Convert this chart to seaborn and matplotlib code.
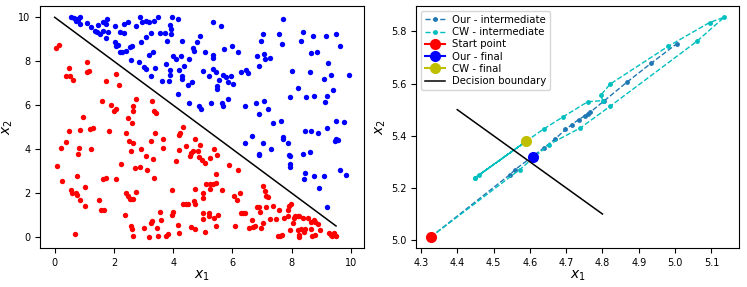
"""
Adversarial path comparison
---------------------------
Left: two-class toy data with a linear decision boundary.
Right: zoom on the intermediate steps of our attack vs. CW.
"""

import numpy as np
import matplotlib
matplotlib.use("Agg")
import matplotlib.pyplot as plt
import seaborn as sns

# =========================
# Data
# =========================
red_points = np.array([
    (0.03, 8.58), (0.15, 8.74), (0.08, 3.23), (0.22, 4.03), (0.26, 2.57), (0.37, 4.32),
    (0.37, 7.31), (0.51, 7.34), (0.62, 7.15), (0.48, 7.67), (0.48, 4.82), (0.56, 2.13),
    (0.60, 1.98), (0.67, 0.15), (0.71, 1.98), (0.75, 1.93), (0.75, 2.77), (0.79, 3.76),
    (0.82, 4.06), (0.84, 4.86), (0.87, 1.70), (0.96, 5.48), (1.01, 2.28), (1.04, 1.40),
    (1.09, 7.98), (1.09, 7.52), (1.16, 7.56), (1.18, 4.90), (1.29, 4.98), (1.24, 3.99),
    (1.49, 1.67), (1.57, 1.22), (1.65, 1.22), (1.61, 6.19), (1.63, 2.62), (1.74, 2.69),
    (1.74, 7.10), (1.85, 4.82), (1.91, 6.00), (1.99, 5.74), (2.06, 5.84), (2.06, 7.41),
    (2.06, 2.65), (2.16, 6.91), (2.25, 3.30), (2.36, 1.02), (2.40, 4.72), (2.42, 2.00),
    (2.47, 1.86), (2.53, 1.74), (2.58, 1.74), (2.64, 1.74), (2.47, 5.43), (2.51, 4.37),
    (2.56, 3.91), (2.58, 0.52), (2.62, 0.37), (2.64, 0.06), (2.62, 5.20), (2.64, 5.74),
    (2.66, 5.94), (2.64, 4.29), (2.70, 3.15), (2.73, 6.27), (2.75, 2.04), (2.87, 3.20),
    (2.92, 3.99), (3.03, 0.41), (3.09, 3.68), (3.12, 3.04), (3.20, 0.00), (3.26, 0.64),
    (3.29, 0.72), (3.26, 4.37), (3.29, 6.19), (3.31, 3.53), (3.37, 5.74), (3.43, 5.66),
    (3.37, 2.69), (3.40, 4.75), (3.45, 0.41), (3.48, 0.03), (3.54, 1.13), (3.60, 0.79),
    (3.65, 4.44), (3.65, 4.06), (3.76, 0.03), (3.82, 0.15), (3.97, 2.13), (3.97, 1.02),
    (4.01, 1.13), (4.10, 3.46), (4.16, 0.56), (4.21, 0.18), (4.19, 4.63), (4.24, 4.72),
    (4.21, 3.94), (4.33, 5.01), (4.33, 1.52), (4.42, 1.52), (4.49, 1.52), (4.44, 4.14),
    (4.57, 3.68), (4.61, 3.84), (4.66, 3.90), (4.61, 0.46), (4.72, 1.63), (4.75, 1.52),
    (4.75, 0.37), (4.75, 4.44), (4.75, 2.19), (4.83, 3.91), (4.87, 3.64), (4.91, 4.17),
    (4.98, 3.50), (5.02, 1.98), (5.02, 1.78), (5.02, 1.10), (5.02, 0.82), (5.06, 3.35),
    (5.09, 0.21), (5.11, 2.39), (5.20, 1.10), (5.22, 0.97), (5.26, 2.19), (5.26, 2.39),
    (5.26, 3.60), (5.36, 2.39), (5.43, 2.47), (5.39, 4.02), (5.39, 0.87), (5.43, 2.85),
    (5.45, 0.52), (5.47, 3.71), (5.51, 1.02), (5.65, 2.16), (5.88, 3.26), (6.07, 1.86),
    (6.10, 0.49), (6.15, 1.70), (6.18, 3.07), (6.26, 2.01), (6.29, 1.10), (6.37, 1.10),
    (6.44, 1.10), (6.55, 0.41), (6.66, 0.79), (6.71, 0.46), (6.78, 0.49), (6.82, 1.37),
    (6.89, 1.37), (6.94, 1.13), (6.97, 0.41), (7.03, 2.34), (7.04, 0.64), (7.11, 2.09),
    (7.13, 1.86), (7.19, 1.83), (7.13, 1.37), (7.27, 0.82), (7.38, 1.40), (7.47, 0.82),
    (7.53, 0.03), (7.60, 0.06), (7.58, 1.22), (7.67, 0.11), (7.75, 0.87), (7.87, 0.97),
    (7.87, 1.22), (7.92, 1.40), (7.98, 1.52), (7.94, 0.33), (8.03, 0.64), (8.09, 0.87),
    (8.12, 0.97), (8.20, 0.97), (8.26, 0.97), (8.20, 0.30), (8.26, 0.00), (8.24, 0.11),
    (8.31, 0.37), (8.37, 0.87), (8.43, 0.21), (8.46, 0.37), (8.54, 0.87), (8.65, 0.67),
    (8.65, 0.37), (8.69, 0.03), (8.74, 0.79), (8.80, 0.67), (8.88, 0.61), (8.80, 0.11),
    (8.97, 0.30), (9.27, 0.18), (9.33, 0.11), (9.38, 0.06), (9.49, 0.03), (9.44, 0.18),
])

blue_points = np.array([
    (0.54, 10.0), (0.64, 9.97), (0.75, 9.92), (0.84, 10.0), (0.71, 9.82), (0.84, 9.70),
    (0.79, 9.86), (1.09, 9.74), (1.24, 9.54), (1.35, 9.39), (1.43, 9.35), (1.46, 9.65),
    (1.52, 9.24), (1.63, 9.80), (1.72, 9.70), (1.76, 9.92), (1.80, 9.35), (1.63, 9.39),
    (1.74, 9.04), (2.02, 9.62), (2.02, 8.86), (2.06, 8.71), (2.13, 8.74), (2.19, 9.32),
    (2.33, 9.28), (2.19, 8.43), (2.28, 8.40), (2.33, 9.70), (2.47, 9.80), (2.42, 8.48),
    (2.53, 8.63), (2.62, 8.71), (2.58, 8.05), (2.73, 9.59), (2.84, 7.98), (2.92, 8.89),
    (2.89, 10.0), (2.96, 9.80), (3.07, 9.85), (3.00, 7.72), (3.07, 7.64), (3.09, 9.09),
    (3.18, 8.28), (3.18, 9.77), (3.26, 9.28), (3.26, 7.34), (3.31, 8.40), (3.34, 9.85),
    (3.48, 10.0), (3.40, 7.67), (3.54, 9.28), (3.63, 7.10), (3.74, 9.28), (3.76, 7.87),
    (3.79, 8.93), (3.85, 7.10), (3.88, 7.37), (3.90, 7.61), (3.88, 9.65), (3.93, 9.47),
    (3.93, 9.24), (3.97, 10.0), (4.01, 8.25), (4.10, 8.10), (4.16, 9.92), (4.16, 6.50),
    (4.21, 7.61), (4.27, 8.22), (4.30, 7.31), (4.30, 7.18), (4.30, 8.93), (4.38, 7.79),
    (4.49, 6.91), (4.53, 6.12), (4.55, 8.10), (4.64, 7.06), (4.66, 8.58), (4.72, 8.48),
    (4.79, 8.86), (4.87, 5.97), (4.89, 9.16), (4.94, 5.81), (5.00, 7.56), (5.06, 8.43),
    (5.20, 7.34), (5.28, 6.12), (5.34, 8.28), (5.34, 8.13), (5.34, 7.64), (5.34, 9.80),
    (5.45, 7.52), (5.47, 6.85), (5.47, 6.73), (5.54, 7.15), (5.62, 9.59), (5.65, 6.09),
    (5.70, 5.94), (5.70, 7.37), (5.73, 8.55), (5.79, 7.26), (5.84, 7.06), (5.84, 6.27),
    (5.96, 7.31), (5.99, 8.71), (6.03, 6.96), (6.18, 8.40), (6.29, 7.52), (6.44, 5.94),
    (6.46, 7.61), (6.44, 4.29), (6.52, 7.46), (6.66, 4.60), (6.80, 6.12), (6.82, 8.25),
    (6.89, 5.59), (6.91, 7.79), (6.91, 3.80), (6.89, 3.71), (6.97, 8.93), (7.04, 9.24),
    (7.04, 4.29), (7.08, 8.33), (7.08, 6.19), (7.11, 8.10), (7.19, 5.81), (7.27, 8.13),
    (7.30, 4.02), (7.36, 5.18), (7.56, 9.24), (7.64, 5.28), (7.67, 8.78), (7.70, 4.57),
    (7.70, 4.44), (7.72, 9.92), (7.87, 4.26), (7.90, 3.75), (7.93, 3.68), (7.93, 3.30),
    (7.95, 3.20), (7.94, 6.35), (8.01, 7.56), (8.20, 6.80), (8.31, 8.90), (8.39, 9.32),
    (8.40, 3.80), (8.43, 2.62), (8.46, 2.92), (8.46, 4.82), (8.48, 6.35), (8.62, 7.49),
    (8.62, 3.87), (8.65, 4.82), (8.65, 8.37), (8.71, 9.13), (8.76, 2.77), (8.76, 6.42),
    (8.85, 8.43), (8.88, 4.75), (8.93, 2.24), (9.10, 7.20), (9.10, 2.77), (9.13, 6.15),
    (9.16, 9.13), (9.18, 6.42), (9.21, 1.37), (9.21, 4.98), (9.24, 7.91), (9.34, 7.37),
    (9.40, 6.70), (9.49, 4.44), (9.45, 4.35), (9.55, 4.40), (9.50, 9.24), (9.49, 5.30),
    (9.63, 8.70), (9.63, 3.07), (9.78, 5.22), (9.85, 2.82), (9.94, 7.38),
])

boundary_left_x = [0.0, 9.5]
boundary_left_y = [10.0, 0.5]

start_point = (4.327, 5.012)
our_final = (4.608, 5.319)
cw_final = (4.589, 5.378)

our_path_x = [4.327, 4.545, 4.559, 4.638, 4.670, 4.698, 4.716, 4.734,
              4.752, 4.759, 4.766, 4.803, 4.867, 4.935, 5.004]
our_path_y = [5.012, 5.251, 5.270, 5.353, 5.388, 5.424, 5.443, 5.462,
              5.477, 5.485, 5.490, 5.532, 5.605, 5.679, 5.752]

cw_path_x = [4.327, 4.572, 4.652, 4.739, 4.821, 5.060, 5.135, 5.095, 4.981,
             4.821, 4.795, 4.801, 4.759, 4.691, 4.638, 4.589, 4.460, 4.449,
             4.589, 4.449, 4.589]
cw_path_y = [5.012, 5.270, 5.366, 5.430, 5.513, 5.762, 5.854, 5.834, 5.743,
             5.598, 5.555, 5.535, 5.530, 5.472, 5.426, 5.378, 5.249, 5.239,
             5.378, 5.239, 5.378]

boundary_right_x = [4.4, 4.8]
boundary_right_y = [5.5, 5.1]

# =========================
# Figure
# =========================
fig = plt.figure(figsize=(7.47, 2.87), dpi=100)
ax1 = fig.add_axes([0.0535, 0.136, 0.4335, 0.842])
ax2 = fig.add_axes([0.557, 0.136, 0.432, 0.842])

# ---- left: data + boundary
sns.scatterplot(x=red_points[:, 0], y=red_points[:, 1], color="r",
                s=15, linewidth=0, ax=ax1)
sns.scatterplot(x=blue_points[:, 0], y=blue_points[:, 1], color="b",
                s=15, linewidth=0, ax=ax1)
sns.lineplot(x=boundary_left_x, y=boundary_left_y, color="k",
             linewidth=1.1, ax=ax1)
ax1.set_xlabel("$x_1$", fontsize=10, labelpad=1)
ax1.set_ylabel("$x_2$", fontsize=10, labelpad=2)
ax1.tick_params(labelsize=7)

# ---- right: attack paths
sns.lineplot(x=our_path_x, y=our_path_y, sort=False, estimator=None,
             color="C0", linestyle="--", linewidth=1, marker="o",
             markersize=3.5, markeredgewidth=0, label="Our - intermediate", ax=ax2)
sns.lineplot(x=cw_path_x, y=cw_path_y, sort=False, estimator=None,
             color="c", linestyle="--", linewidth=1, marker="o",
             markersize=3.5, markeredgewidth=0, label="CW - intermediate", ax=ax2)
sns.lineplot(x=[start_point[0]], y=[start_point[1]], color="r", marker="o",
             markersize=8, markeredgewidth=0, label="Start point", ax=ax2)
sns.lineplot(x=[our_final[0]], y=[our_final[1]], color="b", marker="o",
             markersize=8, markeredgewidth=0, label="Our - final", ax=ax2)
sns.lineplot(x=[cw_final[0]], y=[cw_final[1]], color="y", marker="o",
             markersize=8, markeredgewidth=0, label="CW - final", ax=ax2)
sns.lineplot(x=boundary_right_x, y=boundary_right_y, color="k",
             linewidth=1.1, label="Decision boundary", ax=ax2)
ax2.set_xlabel("$x_1$", fontsize=10, labelpad=1)
ax2.set_ylabel("$x_2$", fontsize=10, labelpad=2)
ax2.tick_params(labelsize=7)
ax2.legend(loc="upper left", fontsize=7.3, labelspacing=0.22,
           borderpad=0.35, handlelength=2.0, handletextpad=0.7)

fig.savefig("out.png", dpi=100)
plt.close(fig)
print("saved out.png")
